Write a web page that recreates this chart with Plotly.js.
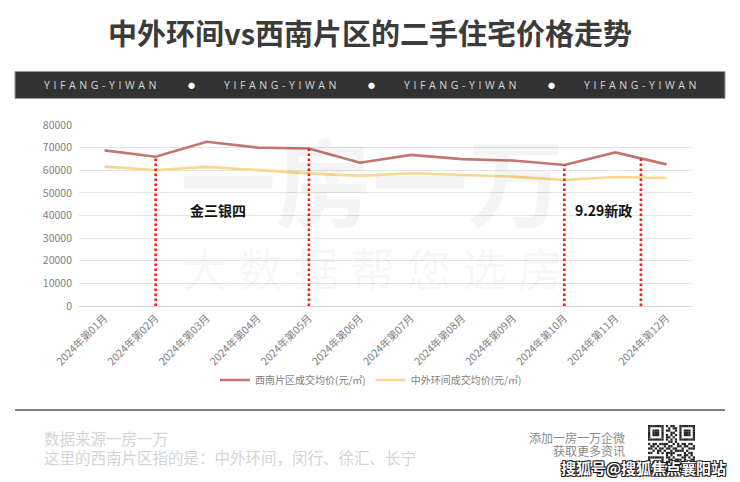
<!DOCTYPE html>
<html><head><meta charset="utf-8">
<script src="https://cdn.plot.ly/plotly-3.0.1.min.js"></script>
<style>html,body{margin:0;padding:0;background:#fff;} #chart{width:740px;height:482px;}</style>
</head><body><div id="chart"></div>
<script>
// ---------- data ----------
const months = ["2024年第01月","2024年第02月","2024年第03月","2024年第04月","2024年第05月","2024年第06月",
                "2024年第07月","2024年第08月","2024年第09月","2024年第10月","2024年第11月","2024年第12月"];
const southwestPrice = [68800, 66000, 72600, 70000, 69600, 63300, 66800, 64900, 64300, 62300, 67900, 62600];
const innerOuterPrice = [61600, 60100, 61500, 60000, 58600, 57500, 58700, 57900, 57200, 55700, 57000, 56600];
const seriesNames = ["西南片区成交均价(元/㎡)", "中外环间成交均价(元/㎡)"];
const markerIndex = [1, 4, 9, 10.5];          // dotted policy markers (category index)
const eventLabels = ["金三银四", "9.29新政"];
const eventLabelIndex = [2.22, 9.76];
const eventLabelValue = 42400;
const yTicks = [0, 10000, 20000, 30000, 40000, 50000, 60000, 70000, 80000];
const titleText = "中外环间vs西南片区的二手住宅价格走势";
const bannerText = "YIFANG-YIWAN";
const sourceLines = ["数据来源一房一万", "这里的西南片区指的是：中外环间，闵行、徐汇、长宁"];
const contactLines = ["添加一房一万企微", "获取更多资讯"];
const sohuMark = "搜狐号@搜狐焦点襄阳站";
const watermark1 = "一房一万";
const watermark2 = "大数据帮您选房";

// ---------- layout helpers ----------
const W = 740, H = 482, L = 79, R = 48, T = 125, B = 176;
const PW = W - L - R, PH = H - T - B;
const X = px => (px - L) / PW;
const Y = py => (H - B - py) / PH;
const FONT = '"Noto Sans CJK SC", "Noto Sans", sans-serif';

function valueAt(arr, idx) {
  const i0 = Math.floor(idx), i1 = Math.ceil(idx);
  return arr[i0] + (arr[i1] - arr[i0]) * (idx - i0);
}

const traces = [
  {x: months, y: southwestPrice, name: seriesNames[0], type: 'scatter', mode: 'lines',
   line: {color: '#c1766f', width: 2.6}, hoverinfo: 'skip'},
  {x: months, y: innerOuterPrice, name: seriesNames[1], type: 'scatter', mode: 'lines',
   line: {color: '#f8d88e', width: 2.6}, hoverinfo: 'skip'}
];

const shapes = [];
markerIndex.forEach(i => {
  shapes.push({type: 'line', xref: 'x', yref: 'y', x0: i, x1: i, y0: 0, y1: valueAt(southwestPrice, i),
    line: {color: '#ff1a1a', width: 2.6, dash: '2.5px,2.5px'}});
});
// banner
shapes.push({type: 'rect', xref: 'paper', yref: 'paper', x0: X(15), x1: X(725), y0: Y(98.5), y1: Y(71.5),
  fillcolor: '#333333', line: {color: '#9a9a9a', width: 1}, layer: 'above'});
// separator
shapes.push({type: 'line', xref: 'paper', yref: 'paper', x0: X(15), x1: X(725), y0: Y(410), y1: Y(410),
  line: {color: '#808080', width: 2}});

const annotations = [];
function ann(text, px, py, font, extra) {
  annotations.push(Object.assign({text: text, xref: 'paper', yref: 'paper', x: X(px), y: Y(py),
    showarrow: false, xanchor: 'center', yanchor: 'middle', font: Object.assign({family: FONT}, font)}, extra || {}));
}
// watermark
ann(watermark1, 372, 177, {size: 96, color: 'rgba(0,0,0,0.045)', weight: 'bold'});
ann('<span style="letter-spacing:11px">' + watermark2 + '</span>', 378, 267, {size: 45, color: 'rgba(0,0,0,0.045)'});
// event labels
eventLabels.forEach((t, k) => {
  annotations.push({text: t, xref: 'x', yref: 'y', x: eventLabelIndex[k], y: eventLabelValue, showarrow: false,
    xanchor: 'center', yanchor: 'middle', font: {family: FONT, size: 14, color: '#111', weight: 'bold'}});
});
// banner texts
[102, 282, 462, 642].forEach(cx => {
  ann('<span style="letter-spacing:3.6px">' + bannerText + '</span>', cx, 84.5, {size: 10.5, color: '#d4d4d4', family: '"Open Sans", sans-serif'});
});
[191, 371, 551].forEach(cx => ann('●', cx, 84.5, {size: 7, color: '#ffffff'}));
// footer texts
ann(sourceLines[0], 42, 438, {size: 15.5, color: '#d4d4d4'}, {xanchor: 'left'});
ann(sourceLines[1], 42, 457, {size: 15.5, color: '#d4d4d4'}, {xanchor: 'left'});
ann(contactLines[0], 627, 437, {size: 12, color: '#8a8a8a'}, {xanchor: 'right'});
ann(contactLines[1], 627, 450.5, {size: 12, color: '#8a8a8a'}, {xanchor: 'right'});

// QR-like decoration
const QR = [
"111111101011001111111","100000100101101000001","101110101100101011101","101110100011001011101",
"101110101010101011101","100000101101001000001","111111101010101111111","000000000110100000000",
"101101111001010110110","011010010110011011001","110101101101100100111","001011010010111101000",
"110010101111000010110","000000001010011011010","111111101101000110101","100000100110111010011",
"101110101101110101100","101110101010001101011","101110100111010010110","100000101100101101001",
"111111101011010110101"];
let svg = '<svg xmlns="http://www.w3.org/2000/svg" width="210" height="210" viewBox="0 0 21 21"><rect width="21" height="21" fill="#fff"/>';
QR.forEach((row, r) => { for (let c = 0; c < row.length && c < 21; c++) if (row[c] === '1') svg += '<rect x="' + c + '" y="' + r + '" width="1" height="1" fill="#222"/>'; });
svg += '</svg>';
const qrSrc = 'data:image/svg+xml;base64,' + btoa(svg);

ann(sohuMark, 643, 467.5, {size: 15, color: '#ffffff', weight: 'bold',
  shadow: '-1px -1px 0 #1a1a1a, 1px -1px 0 #1a1a1a, -1px 1px 0 #1a1a1a, 1px 1px 0 #1a1a1a'});

const layout = {
  width: W, height: H,
  margin: {l: L, r: R, t: T, b: B, pad: 0},
  paper_bgcolor: '#ffffff', plot_bgcolor: '#ffffff',
  font: {family: FONT, color: '#7f7f7f', size: 10},
  title: {text: titleText, x: 0.5, xref: 'container', xanchor: 'center', y: 1 - 35 / H, yref: 'container', yanchor: 'middle',
    font: {family: FONT, size: 29, color: '#3b3b3b', weight: 'bold'}},
  xaxis: {type: 'category', range: [-0.5, 11.5], tickangle: -45, showgrid: false, zeroline: false, showline: false,
    ticks: '', ticklabelstandoff: 3, tickfont: {family: FONT, size: 10.5, color: '#808080'}, fixedrange: true},
  yaxis: {range: [0, 80000], tickvals: yTicks, ticktext: yTicks.map(String), showgrid: true, gridcolor: '#e4e4e4', gridwidth: 1,
    zeroline: true, zerolinecolor: '#d4d4d4', zerolinewidth: 1, showline: false, ticks: '', ticklabelstandoff: 6,
    tickfont: {family: FONT, size: 10.5, color: '#808080'}, fixedrange: true},
  showlegend: true,
  legend: {orientation: 'h', x: X(371), xanchor: 'center', y: Y(380), yanchor: 'middle',
    font: {family: FONT, size: 10, color: '#7f7f7f'}, itemwidth: 30, bgcolor: 'rgba(0,0,0,0)'},
  shapes: shapes,
  annotations: annotations,
  images: [{source: qrSrc, xref: 'paper', yref: 'paper', x: X(648), y: Y(425), sizex: 47 / PW, sizey: 47 / PH,
    xanchor: 'left', yanchor: 'top', sizing: 'stretch', layer: 'below'}]
};

Plotly.newPlot('chart', traces, layout, {displayModeBar: false, staticPlot: true});
</script>
</body></html>
